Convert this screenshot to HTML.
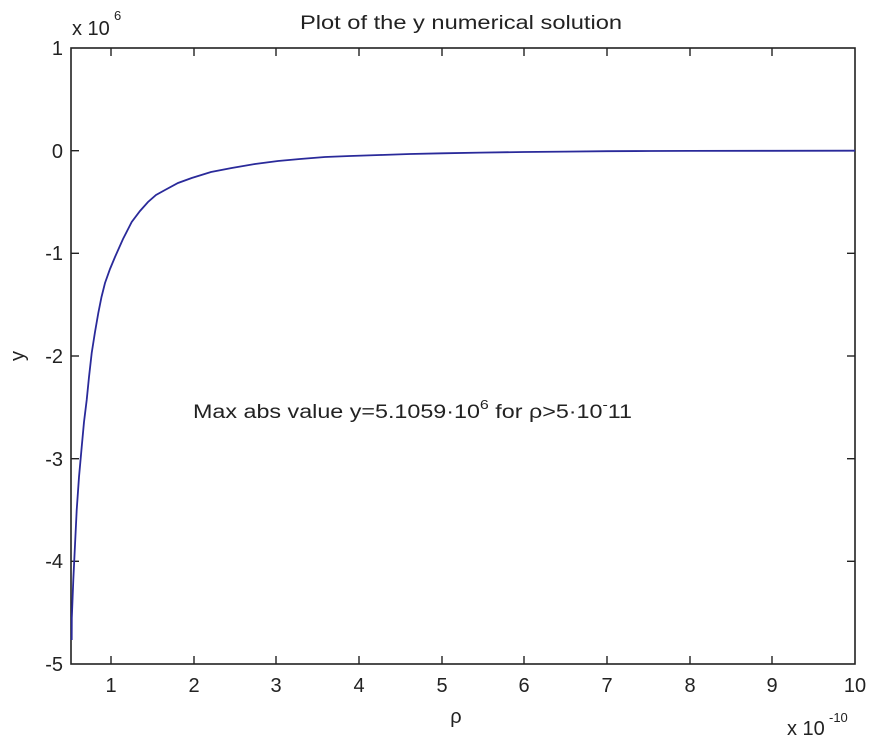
<!DOCTYPE html>
<html><head><style>
html,body{margin:0;padding:0;background:#fff;}
svg{display:block;}
text{font-family:"Liberation Sans",sans-serif;fill:#222;}
</style></head><body>
<svg width="880" height="744" viewBox="0 0 880 744" xmlns="http://www.w3.org/2000/svg">
<rect width="880" height="744" fill="#fff"/>
<text x="300" y="29" font-size="19" textLength="322" lengthAdjust="spacingAndGlyphs">Plot of the y numerical solution</text>
<rect x="71" y="48" width="784" height="616" fill="none" stroke="#222" stroke-width="1.6"/>
<g stroke="#222" stroke-width="1.4">
<line x1="111" y1="664" x2="111" y2="656"/><line x1="194" y1="664" x2="194" y2="656"/>
<line x1="276" y1="664" x2="276" y2="656"/><line x1="359" y1="664" x2="359" y2="656"/>
<line x1="442" y1="664" x2="442" y2="656"/><line x1="524" y1="664" x2="524" y2="656"/>
<line x1="607" y1="664" x2="607" y2="656"/><line x1="690" y1="664" x2="690" y2="656"/>
<line x1="772" y1="664" x2="772" y2="656"/>
<line x1="111" y1="48" x2="111" y2="56"/><line x1="194" y1="48" x2="194" y2="56"/>
<line x1="276" y1="48" x2="276" y2="56"/><line x1="359" y1="48" x2="359" y2="56"/>
<line x1="442" y1="48" x2="442" y2="56"/><line x1="524" y1="48" x2="524" y2="56"/>
<line x1="607" y1="48" x2="607" y2="56"/><line x1="690" y1="48" x2="690" y2="56"/>
<line x1="772" y1="48" x2="772" y2="56"/>
<line x1="71" y1="150.7" x2="79" y2="150.7"/><line x1="71" y1="253.3" x2="79" y2="253.3"/>
<line x1="71" y1="356" x2="79" y2="356"/><line x1="71" y1="458.7" x2="79" y2="458.7"/>
<line x1="71" y1="561.3" x2="79" y2="561.3"/>
<line x1="855" y1="150.7" x2="847" y2="150.7"/><line x1="855" y1="253.3" x2="847" y2="253.3"/>
<line x1="855" y1="356" x2="847" y2="356"/><line x1="855" y1="458.7" x2="847" y2="458.7"/>
<line x1="855" y1="561.3" x2="847" y2="561.3"/>
</g>
<g font-size="20" text-anchor="middle">
<text x="111" y="692">1</text><text x="194" y="692">2</text><text x="276" y="692">3</text>
<text x="359" y="692">4</text><text x="442" y="692">5</text><text x="524" y="692">6</text>
<text x="607" y="692">7</text><text x="690" y="692">8</text><text x="772" y="692">9</text>
<text x="855" y="692">10</text>
</g>
<g font-size="20" text-anchor="end">
<text x="63" y="55">1</text><text x="63" y="158">0</text><text x="63" y="260">-1</text>
<text x="63" y="363">-2</text><text x="63" y="466">-3</text><text x="63" y="568">-4</text>
<text x="63" y="671">-5</text>
</g>
<text x="72" y="35" font-size="20">x 10</text><text x="114" y="20" font-size="13">6</text>
<text x="787" y="735" font-size="20">x 10</text><text x="829" y="722" font-size="13">-10</text>
<text x="456" y="723" font-size="20" text-anchor="middle">ρ</text>
<text x="24" y="356" font-size="20" text-anchor="middle" transform="rotate(-90 24 356)">y</text>
<text x="193" y="418" font-size="19" textLength="439" lengthAdjust="spacingAndGlyphs">Max abs value y=5.1059·10<tspan font-size="13" dy="-9">6</tspan><tspan dy="9"> for ρ&gt;5·10</tspan><tspan font-size="13" dy="-9">-</tspan><tspan dy="9">11</tspan></text>
<polyline fill="none" stroke="#2a2a9a" stroke-width="1.8" points="71.7,640 71.8,618 73.3,580 75,545 76.7,510 79,477 81.7,447 84,422 86.7,400 89,377 91.7,353 95,332 98.3,313 101.5,297 105,283 110,269 115,257 123,239 131.7,222 140,211 148,202 156,195 165,190 178,183 191.7,178 211,172 231.7,168 255,164 278,161 300,159 325,157 350,156 380,155 410,154 442,153.3 480,152.6 524,152 565,151.6 607,151.2 650,151 690,150.9 772,150.8 855,150.7"/>
</svg>
</body></html>
